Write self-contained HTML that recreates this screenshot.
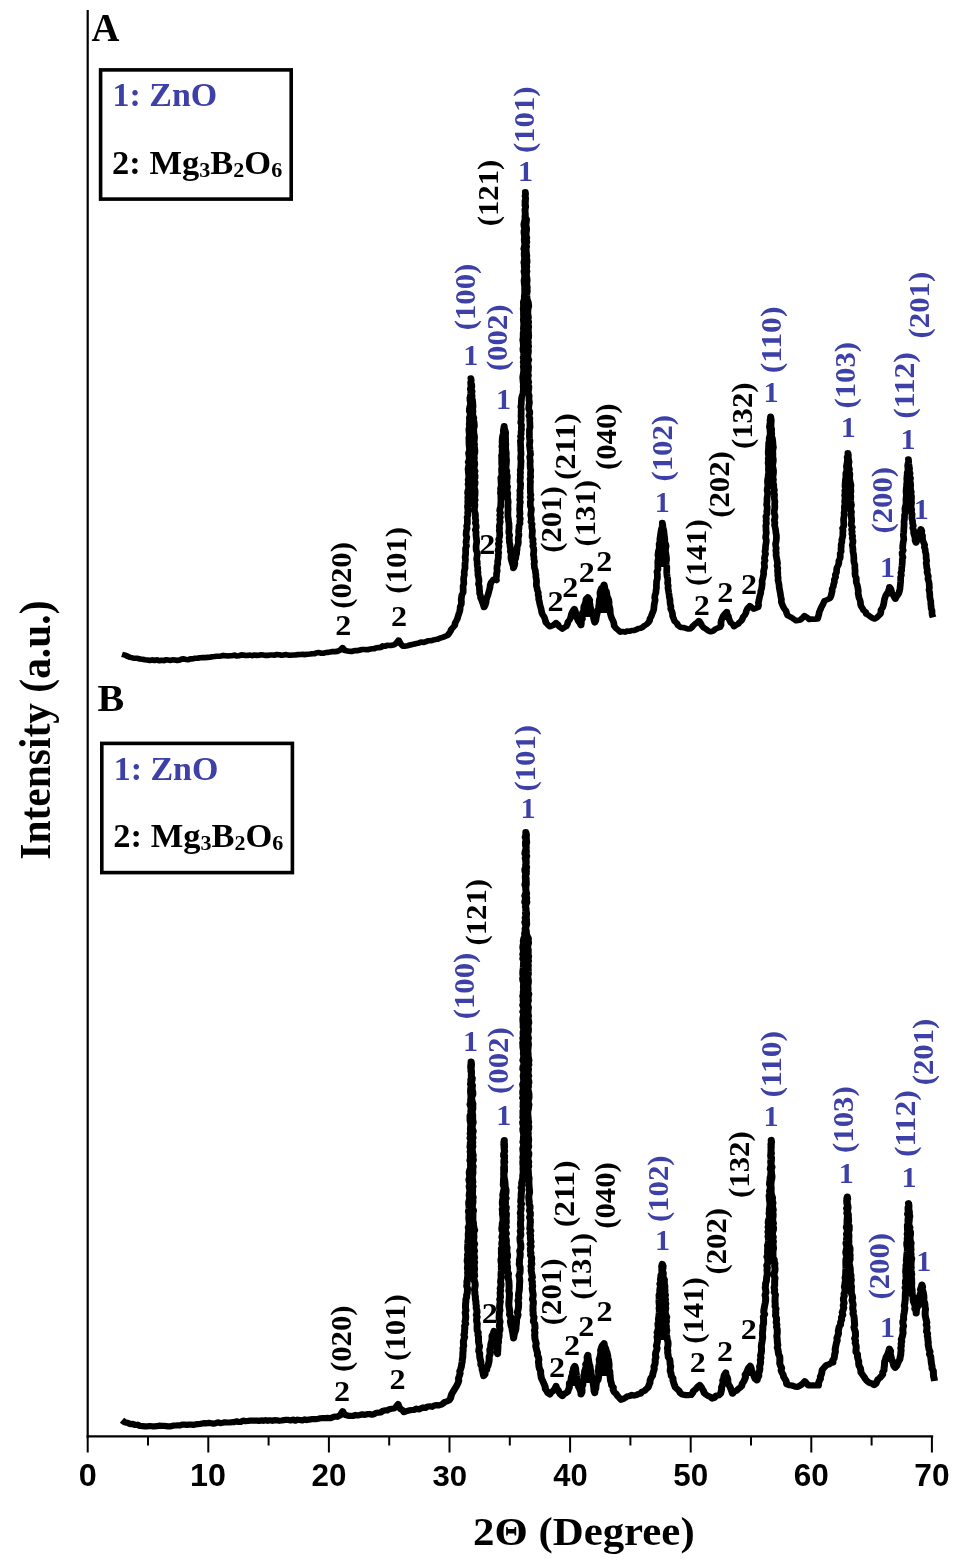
<!DOCTYPE html>
<html lang="en"><head><meta charset="utf-8"><title>XRD patterns</title>
<style>
html,body{margin:0;padding:0;background:#fff}
body{width:969px;height:1567px;overflow:hidden}
svg{display:block}
text.s{font-family:"Liberation Serif","Times New Roman",serif;font-weight:bold}
text.a{font-family:"Liberation Sans",Arial,sans-serif;font-weight:bold}
</style></head><body>
<svg width="969" height="1567" viewBox="0 0 969 1567">
<rect width="969" height="1567" fill="#fff"/>
<path d="M87.7 10 V1437.4" stroke="#000" stroke-width="2.2" fill="none"/>
<path d="M86.7 1436.4 H933.2" stroke="#000" stroke-width="2.2" fill="none"/>
<path d="M87.7 1436.4 V1452.5M208.3 1436.4 V1452.5M328.9 1436.4 V1452.5M449.5 1436.4 V1452.5M570.1 1436.4 V1452.5M690.7 1436.4 V1452.5M811.3 1436.4 V1452.5M931.9 1436.4 V1452.5" stroke="#000" stroke-width="2" fill="none"/>
<path d="M148.0 1436.4 V1445.5M268.6 1436.4 V1445.5M389.2 1436.4 V1445.5M509.8 1436.4 V1445.5M630.4 1436.4 V1445.5M751.0 1436.4 V1445.5M871.6 1436.4 V1445.5" stroke="#000" stroke-width="2" fill="none"/>
<text class="a" font-size="30" fill="#000" transform="matrix(1.0807,0,0,1.0165,78.65,1485.95)">0</text>
<text class="a" font-size="30" fill="#000" transform="matrix(1.0777,0,0,1.0165,189.98,1485.95)">10</text>
<text class="a" font-size="30" fill="#000" transform="matrix(1.0474,0,0,1.0165,311.55,1485.95)">20</text>
<text class="a" font-size="30" fill="#000" transform="matrix(1.0390,0,0,1.0105,432.42,1485.82)">30</text>
<text class="a" font-size="30" fill="#000" transform="matrix(1.0308,0,0,1.0165,553.28,1485.95)">40</text>
<text class="a" font-size="30" fill="#000" transform="matrix(1.0474,0,0,1.0165,673.35,1485.95)">50</text>
<text class="a" font-size="30" fill="#000" transform="matrix(1.0516,0,0,1.0165,793.82,1485.95)">60</text>
<text class="a" font-size="30" fill="#000" transform="matrix(1.0559,0,0,1.0165,914.28,1485.95)">70</text>
<text class="s" font-size="38" fill="#000" transform="matrix(1.1279,0,0,1.0428,472.97,1544.50)">2Θ (Degree)</text>
<text class="s" font-size="40" fill="#000" transform="matrix(0,-1.0370,1.0895,0,50.30,859.73)">Intensity (a.u.)</text>
<g transform="scale(1.2,1)"><polyline points="101.67,654.4 104.28,655.1 106.67,656.5 108.54,657.4 110.50,657.9 112.50,658.2 114.62,658.3 116.67,659.0 118.76,659.3 120.83,659.8 122.82,660.1 124.81,660.5 126.86,659.9 128.83,660.5 130.71,659.9 132.62,660.8 134.50,660.3 136.39,660.6 138.27,659.7 140.17,660.1 142.06,660.4 143.94,659.8 145.83,660.0 147.69,660.4 149.52,660.2 151.31,659.1 153.14,658.9 155.00,659.4 156.86,659.7 158.66,658.9 160.50,658.9 162.55,658.3 164.64,658.3 166.67,657.7 168.76,657.6 170.85,657.6 172.93,657.4 175.00,657.2 176.83,656.7 178.69,656.5 180.55,656.2 182.43,656.3 184.27,655.9 186.10,655.4 188.00,655.7 189.86,656.0 191.70,655.7 193.55,655.7 195.39,655.1 197.25,656.0 199.10,655.8 200.93,654.9 202.78,655.1 204.64,655.5 206.49,655.4 208.33,655.1 210.19,655.6 212.04,655.0 213.89,655.4 215.74,655.2 217.59,654.8 219.44,655.1 221.30,655.4 223.15,655.4 225.00,655.0 226.92,655.0 228.83,655.1 230.75,654.5 232.67,654.7 234.58,655.3 236.50,654.9 238.42,654.6 240.33,655.1 242.25,655.2 244.17,655.0 246.20,655.0 248.21,654.6 250.23,654.5 252.26,654.4 254.30,654.6 256.31,654.2 258.33,654.0 260.23,653.7 262.14,653.6 264.01,652.8 265.91,652.6 267.87,653.2 269.80,653.2 271.67,652.5 273.51,652.4 275.32,651.9 277.14,651.5 279.00,651.6 280.83,651.4 283.75,650.0 285.50,647.8 287.50,650.6 290.83,651.2 292.71,651.5 294.53,651.0 296.34,650.5 298.20,650.6 300.00,650.0 301.96,649.5 303.97,649.5 306.00,649.8 307.95,649.2 309.93,648.8 311.92,648.6 313.67,647.8 315.54,647.6 317.44,647.4 319.03,645.9 321.01,646.2 322.75,645.3 324.63,645.5 326.50,645.4 328.33,644.8 330.42,643.0 332.17,640.2 333.83,643.8 335.83,646.2 337.82,646.1 339.77,645.7 341.67,645.0 343.52,644.5 345.39,644.1 347.21,643.4 349.08,643.0 350.94,642.1 353.02,642.5 354.91,641.7 356.78,640.8 358.77,640.7 360.71,640.2 362.62,639.6 364.58,639.3 366.66,638.1 368.85,637.3 371.00,636.4 373.08,635.2 374.33,633.3 375.39,631.3 376.23,629.1 377.55,627.3 378.92,625.5 379.28,623.0 380.28,620.8 381.16,618.6 381.75,616.2 382.39,613.8 383.05,611.5 383.42,609.0 383.52,606.6 384.37,604.4 384.54,602.0 384.33,599.6 384.59,597.2 384.92,594.9 385.91,592.7 386.00,590.3 385.91,588.1 385.92,585.8 386.52,583.7 386.41,581.4 386.29,579.2 386.51,577.0 386.98,574.8 386.79,572.6 387.02,570.4 387.56,568.2 387.46,565.9 387.48,563.7 387.76,561.5 387.92,559.3 387.56,557.1 387.98,554.9 388.09,552.7 387.96,550.4 387.98,548.2 388.78,546.1 388.51,543.8 388.32,541.6 388.76,539.4 389.04,537.2 388.39,535.0 388.48,532.8 388.68,530.6 389.28,528.4 388.86,526.1 389.44,524.0 389.50,521.7 389.46,519.5 389.24,517.3 390.02,515.1 389.67,512.9 389.98,510.7 389.76,508.5 389.53,506.3 389.96,504.0 389.77,501.8 389.97,499.6 389.78,497.4 390.10,495.2 389.62,493.0 389.88,490.8 390.53,488.6 390.49,486.3 390.01,484.1 390.55,481.9 390.09,479.7 390.70,477.5 390.56,475.3 390.30,473.0 390.19,470.8 390.01,468.6 390.50,466.4 390.88,464.2 390.15,462.0 390.90,459.8 391.07,457.6 390.74,455.4 390.41,453.1 391.09,450.9 391.22,448.7 391.01,446.5 390.87,444.3 390.78,442.1 390.79,439.9 390.69,437.7 391.16,435.5 390.97,433.3 390.79,431.0 390.74,428.8 391.29,426.6 390.99,424.4 391.21,422.2 391.25,420.0 391.15,417.8 391.70,415.6 391.79,413.4 391.04,411.1 391.26,408.9 391.43,406.7 392.10,404.5 391.97,402.3 391.62,400.1 391.56,397.9 392.04,395.7 392.24,393.5 392.39,391.3 391.91,389.0 392.46,386.9 392.33,384.6 392.21,382.4 392.72,380.2 392.33,378.0 392.72,380.2 392.41,382.4 393.14,384.6 393.20,386.8 392.67,389.0 393.45,391.2 393.09,393.4 393.38,395.6 393.30,397.8 393.75,400.0 393.97,402.2 394.09,404.4 394.24,406.6 393.81,408.9 394.15,411.1 393.93,413.3 394.09,415.6 394.88,417.7 394.59,420.0 395.10,422.2 395.26,424.4 395.33,426.6 394.70,428.9 394.87,431.1 394.93,433.3 395.33,435.5 395.49,437.7 395.25,440.0 395.11,442.2 395.49,444.4 395.32,446.6 395.65,448.8 395.79,451.1 395.63,453.3 395.07,455.5 395.38,457.8 395.06,460.0 395.50,462.2 395.67,464.4 395.22,466.7 395.19,468.9 395.95,471.1 395.35,473.3 395.90,475.5 395.88,477.8 395.19,480.0 395.97,482.2 395.80,484.4 395.13,486.7 395.66,488.9 395.95,491.1 395.91,493.3 395.85,495.6 395.40,497.8 396.00,500.0 395.27,502.3 395.77,504.5 395.67,506.7 395.32,509.0 395.46,511.4 396.11,513.6 396.23,516.0 396.10,518.3 396.53,520.6 396.11,522.9 396.75,525.2 396.86,527.5 396.06,529.9 396.77,532.2 396.58,534.5 396.80,536.8 397.00,539.2 397.32,541.5 397.00,543.8 396.71,546.0 396.75,548.3 396.84,550.5 397.71,552.6 397.71,554.9 397.43,557.1 397.19,559.3 397.67,561.5 397.63,563.7 397.74,566.0 398.20,568.1 398.03,570.4 398.34,572.6 398.25,574.8 398.71,577.1 399.08,579.4 399.12,581.7 398.71,584.1 399.42,586.4 399.46,588.7 399.69,591.1 399.65,593.4 400.37,595.7 400.50,598.0 401.40,600.3 402.11,602.7 402.85,605.1 403.42,607.5 404.37,605.1 405.06,602.6 405.19,599.9 405.87,597.4 406.67,595.0 407.22,592.5 407.77,590.0 408.30,587.5 408.51,584.9 409.25,582.5 411.17,579.4 413.75,580.5 413.45,578.1 413.79,575.8 413.78,573.4 414.35,571.1 414.05,568.7 414.19,566.3 414.85,564.0 414.67,561.6 415.00,559.3 415.36,557.1 415.18,554.9 415.62,552.7 415.06,550.5 415.48,548.3 415.84,546.1 415.28,543.8 416.17,541.7 415.56,539.4 416.21,537.2 416.49,535.0 416.44,532.8 416.07,530.6 416.33,528.4 416.03,526.2 416.47,524.0 416.90,521.8 416.38,519.5 416.99,517.3 416.36,515.1 417.13,512.9 416.38,510.7 416.70,508.5 417.30,506.3 417.27,504.1 417.42,501.8 417.42,499.6 417.39,497.4 417.40,495.2 416.99,493.0 417.28,490.8 417.09,488.5 417.66,486.3 417.68,484.1 417.58,481.9 417.42,479.7 417.31,477.5 418.20,475.3 418.12,473.1 417.95,470.9 418.00,468.6 418.35,466.4 418.05,464.2 418.06,462.0 418.07,459.8 418.06,457.6 417.91,455.4 418.54,453.2 418.40,451.0 418.60,448.8 418.20,446.5 418.53,444.3 418.39,442.1 418.45,439.9 418.63,437.7 418.92,435.5 419.53,433.1 419.45,430.6 419.76,428.2 420.17,425.8 420.34,428.1 420.95,430.4 421.43,432.6 421.25,435.0 421.28,437.3 421.37,439.6 421.29,441.9 421.54,444.1 421.38,446.4 421.40,448.7 421.67,451.0 421.96,453.2 421.79,455.5 421.86,457.7 422.15,459.9 422.04,462.2 421.96,464.4 421.70,466.6 421.75,468.9 422.39,471.1 422.11,473.3 422.72,475.5 422.75,477.8 422.42,480.0 422.51,482.2 422.27,484.5 423.03,486.6 422.58,488.9 422.58,491.1 423.20,493.3 422.95,495.6 422.91,497.8 423.33,500.0 423.50,502.3 423.24,504.7 423.26,507.0 423.43,509.3 423.24,511.7 423.25,514.0 423.24,516.3 423.64,518.7 423.75,521.0 424.14,523.4 424.17,525.7 424.29,528.1 424.06,530.5 423.98,532.9 424.72,535.2 424.24,537.6 424.50,540.0 424.49,542.3 425.02,544.6 425.06,546.9 425.57,549.1 425.24,551.5 426.06,553.7 425.83,556.0 425.80,558.6 426.36,561.0 426.92,563.5 427.64,565.9 427.83,568.4 428.62,566.0 429.08,563.5 428.76,560.9 429.75,558.5 429.92,556.0 430.50,553.8 430.61,551.5 430.92,549.2 430.96,546.8 431.67,544.6 431.99,542.4 431.83,540.0 431.89,537.6 432.44,535.3 432.27,532.9 432.19,530.5 432.51,528.1 432.49,525.7 433.37,523.4 433.17,521.0 433.62,518.6 432.88,516.3 433.36,513.9 433.22,511.6 432.98,509.2 433.18,506.8 433.17,504.5 433.66,502.1 433.01,499.8 433.50,497.4 433.24,495.1 433.48,492.9 433.12,490.6 433.70,488.4 433.70,486.1 433.93,483.9 433.37,481.6 433.46,479.3 433.72,477.1 433.49,474.8 433.80,472.6 433.51,470.3 433.93,468.1 434.04,465.8 434.08,463.5 434.25,461.3 433.88,459.0 433.85,456.8 434.20,454.5 434.14,452.3 433.92,450.0 434.01,447.7 433.86,445.5 433.80,443.2 433.66,440.9 434.33,438.6 433.73,436.4 434.33,434.1 434.17,431.8 434.58,429.6 434.42,427.3 434.64,425.0 433.90,422.7 434.26,420.5 434.35,418.2 434.14,415.9 434.34,413.6 434.24,411.4 434.42,409.1 433.96,406.8 434.39,404.5 434.43,402.3 434.50,400.0 434.70,397.7 435.16,395.5 435.88,393.3 436.00,391.0 436.17,388.8 436.00,386.5 436.14,384.3 435.90,382.1 435.74,379.9 435.56,377.6 435.81,375.4 436.11,373.2 436.37,371.0 436.32,368.8 436.03,366.5 436.47,364.3 435.99,362.1 436.34,359.9 435.95,357.6 436.26,355.4 436.48,353.2 435.86,350.9 435.74,348.7 436.15,346.5 436.07,344.3 435.92,342.0 435.59,339.8 435.95,337.6 435.98,335.4 435.97,333.1 436.39,330.9 436.14,328.7 436.27,326.5 436.43,324.3 436.29,322.0 436.06,319.8 436.29,317.6 436.20,315.4 436.21,313.1 436.19,310.9 435.99,308.7 436.20,306.5 436.20,304.2 436.08,302.0 436.90,299.1 436.92,296.0 437.18,293.8 437.23,291.5 437.16,289.3 437.21,287.0 437.01,284.8 436.78,282.5 436.70,280.3 437.11,278.1 437.26,275.8 436.96,273.6 436.60,271.3 437.22,269.1 436.90,266.8 436.89,264.6 436.50,262.4 436.93,260.1 437.14,257.9 436.85,255.6 436.78,253.4 437.06,251.2 436.48,248.9 436.92,246.7 437.33,244.4 437.09,242.2 436.83,239.9 437.09,237.7 437.01,235.5 436.65,233.2 436.65,231.0 437.27,228.7 436.70,226.5 436.53,224.2 436.92,222.0 437.47,219.4 437.44,216.7 437.67,214.0 437.55,211.8 437.69,209.6 437.91,207.3 437.40,205.1 437.85,202.9 437.91,200.7 438.01,198.5 437.52,196.2 437.84,194.0 437.75,191.8 438.00,194.0 437.71,196.2 438.08,198.5 437.52,200.7 437.46,202.9 437.96,205.1 438.06,207.3 437.39,209.6 437.64,211.8 437.83,214.0 437.80,216.7 438.82,219.3 438.67,222.0 438.31,224.2 438.58,226.5 438.87,228.7 438.78,231.0 438.49,233.2 438.48,235.5 439.04,237.7 438.65,239.9 439.09,242.2 438.36,244.4 438.86,246.7 438.44,248.9 438.62,251.2 438.75,253.4 439.07,255.6 438.84,257.9 439.21,260.1 439.23,262.4 438.71,264.6 439.05,266.8 438.70,269.1 439.18,271.3 438.76,273.6 438.77,275.8 439.16,278.1 439.36,280.3 439.10,282.5 439.03,284.8 439.40,287.0 439.33,289.3 439.47,291.5 438.98,293.8 439.08,296.0 439.32,299.1 440.25,302.0 440.51,304.2 440.68,306.4 440.07,308.7 439.97,310.9 439.83,313.1 440.16,315.4 440.41,317.6 439.96,319.8 440.62,322.0 440.09,324.3 440.64,326.5 440.37,328.7 440.28,330.9 440.39,333.1 440.59,335.4 440.53,337.6 439.99,339.8 440.32,342.0 440.22,344.3 440.56,346.5 440.10,348.7 440.45,350.9 440.21,353.2 439.92,355.4 439.85,357.6 440.72,359.8 440.03,362.1 439.98,364.3 440.48,366.5 440.42,368.7 440.24,371.0 439.93,373.2 440.41,375.4 439.97,377.7 440.09,379.9 440.64,382.1 439.95,384.3 440.77,386.5 440.66,388.8 440.33,391.0 440.31,393.3 440.99,395.5 440.82,397.7 440.83,400.0 441.21,402.3 440.94,404.5 440.64,406.8 440.61,409.1 441.45,411.4 441.46,413.6 440.79,415.9 441.56,418.2 441.38,420.4 441.56,422.7 441.62,425.0 441.72,427.3 441.20,429.5 441.14,431.8 441.23,434.1 441.12,436.4 441.33,438.6 441.62,440.9 441.43,443.2 441.16,445.5 441.50,447.7 441.67,450.0 441.93,452.2 442.12,454.5 441.35,456.8 441.69,459.0 441.94,461.2 441.73,463.5 441.80,465.8 441.86,468.0 442.31,470.2 442.07,472.5 442.04,474.7 442.26,477.0 441.67,479.3 442.11,481.5 441.92,483.8 441.90,486.0 441.90,488.3 441.95,490.5 441.94,492.8 442.43,495.0 441.79,497.3 442.58,499.5 441.90,501.8 441.98,504.0 442.01,506.3 442.77,508.5 442.76,510.7 442.42,513.0 442.25,515.2 442.68,517.4 442.89,519.6 442.45,521.9 443.43,524.0 443.10,526.2 443.30,528.4 443.71,530.6 443.58,532.8 443.42,535.1 443.38,537.3 444.28,539.4 443.94,541.7 444.46,543.8 443.93,546.1 444.70,548.2 444.87,550.4 444.67,552.7 444.47,554.9 444.97,557.1 444.92,559.3 445.46,561.5 445.07,563.8 445.26,566.0 445.43,568.2 446.14,570.3 446.24,572.6 446.61,574.8 446.53,577.0 446.95,579.2 447.15,581.4 446.95,583.7 447.00,585.9 447.55,588.1 447.83,590.3 448.56,592.4 448.44,594.8 448.99,597.0 448.88,599.3 449.49,601.5 449.75,603.8 450.24,606.0 450.76,608.2 451.17,610.4 451.46,612.6 452.16,614.7 453.26,616.5 454.02,618.5 454.47,620.7 455.00,622.8 456.61,624.8 458.25,626.7 460.83,625.5 463.42,622.8 464.92,624.4 465.83,626.5 468.58,629.0 470.13,627.6 471.83,626.5 472.81,624.4 473.29,621.9 474.58,620.0 475.44,617.9 475.88,615.7 476.33,613.5 477.35,610.9 478.67,608.6 479.43,611.0 479.96,613.5 480.57,616.0 481.00,618.5 481.86,621.0 483.11,623.2 484.17,625.5 484.47,623.3 484.40,621.1 485.38,619.0 485.12,616.7 485.40,614.5 485.44,612.3 486.55,610.3 486.37,608.0 486.67,605.8 487.59,603.7 488.15,601.4 488.33,599.0 489.92,597.0 491.50,600.0 491.32,602.3 491.71,604.5 491.86,606.7 492.50,608.9 492.65,611.3 493.29,613.6 494.41,615.7 494.59,618.2 495.07,620.5 495.67,622.8 496.57,620.5 496.85,618.0 497.24,615.6 497.74,613.1 497.86,610.6 498.85,608.3 498.92,605.8 499.27,603.6 499.28,601.4 499.56,599.2 500.26,597.0 500.08,594.7 499.97,592.5 500.50,590.3 501.19,588.1 502.59,586.5 503.42,584.4 503.90,586.7 504.14,589.1 505.32,591.1 505.66,593.4 505.92,595.8 506.67,598.0 507.35,600.1 507.58,602.4 507.45,604.7 507.97,606.8 508.39,609.0 508.53,611.2 508.58,613.5 509.12,616.0 509.86,618.5 510.90,620.8 511.56,623.3 511.83,625.9 513.33,628.2 515.18,630.1 517.00,632.1 518.91,631.5 520.90,632.1 522.77,631.0 524.75,631.3 526.52,630.5 528.44,630.4 530.20,629.7 531.90,628.6 533.75,628.2 535.56,627.2 537.01,625.6 538.75,624.5 540.17,622.8 541.28,620.8 541.67,618.4 542.66,616.4 543.34,614.2 544.08,612.0 544.77,609.7 544.93,607.2 545.15,604.8 545.52,602.4 545.97,600.0 545.58,597.5 545.82,595.1 546.60,592.7 546.67,590.3 547.06,588.0 546.98,585.6 547.10,583.3 547.18,581.0 547.77,578.7 547.84,576.3 547.79,574.0 547.45,571.6 548.34,569.4 548.17,567.0 548.24,564.7 548.10,562.3 548.31,560.0 548.78,557.7 548.26,555.4 548.47,553.1 548.74,550.7 549.39,548.5 549.37,546.1 549.25,543.8 549.97,541.5 549.88,539.1 550.20,536.7 550.48,534.3 550.75,532.0 551.07,529.6 551.61,527.3 552.03,524.9 551.92,522.5 552.31,524.9 552.41,527.3 553.01,529.6 553.32,531.9 553.44,534.3 553.67,536.7 554.01,539.1 553.93,541.5 554.67,543.8 555.08,546.1 554.74,548.4 554.51,550.8 554.85,553.1 555.11,555.4 555.39,557.7 555.46,560.0 555.07,562.4 555.20,564.7 555.67,567.0 555.64,569.3 555.57,571.7 555.68,574.0 555.88,576.3 556.44,578.6 556.50,581.0 556.33,583.3 556.85,585.6 556.64,588.0 557.00,590.3 557.26,592.6 557.63,594.9 557.76,597.3 558.31,599.5 558.33,601.9 558.51,604.2 559.12,606.5 558.92,608.9 559.85,611.3 560.43,613.7 560.55,616.4 561.44,618.8 562.17,621.2 564.00,623.1 565.23,625.7 567.25,627.4 569.23,627.5 571.12,628.2 573.03,628.9 575.00,629.0 576.51,627.5 577.73,625.6 579.17,624.0 581.00,622.5 582.50,620.6 583.76,622.9 584.83,625.4 586.25,627.6 588.34,629.0 590.21,630.9 592.50,631.8 594.44,630.9 596.04,629.2 597.91,628.1 599.92,627.4 600.88,625.2 600.78,622.7 601.15,620.3 601.90,618.0 602.67,615.8 604.15,613.7 605.67,611.6 605.90,614.0 607.00,616.1 607.35,618.5 608.17,620.7 609.08,622.9 610.81,624.4 611.67,626.6 613.29,625.2 615.07,624.1 616.38,622.2 617.92,620.7 618.76,618.7 619.42,616.7 620.73,615.0 621.57,613.0 622.00,610.8 623.12,608.1 624.83,605.8 626.51,607.5 628.25,609.1 629.93,608.2 631.67,607.5 632.16,605.2 631.99,602.7 632.45,600.3 632.80,598.0 633.31,595.6 633.93,593.3 634.00,590.9 634.67,588.5 634.95,586.0 635.20,583.5 635.02,580.9 635.64,578.5 636.08,576.0 636.42,573.8 636.26,571.6 636.64,569.4 637.19,567.2 637.00,565.0 636.77,562.8 637.56,560.6 637.00,558.3 637.38,556.1 637.97,553.9 637.45,551.6 637.86,549.4 637.89,547.2 638.08,545.0 638.47,542.6 638.61,540.2 638.00,537.7 638.22,535.3 638.62,532.9 638.34,530.4 638.33,528.0 638.14,525.7 638.71,523.3 638.39,521.0 638.60,518.7 638.23,516.3 639.20,514.0 638.96,511.7 639.28,509.4 639.39,507.0 638.81,504.7 639.13,502.3 639.17,500.0 639.20,497.7 639.58,495.4 639.75,493.1 639.28,490.8 639.41,488.4 639.89,486.2 639.71,483.8 639.55,481.5 639.70,479.2 640.12,476.9 640.24,474.6 640.66,472.3 640.33,470.0 640.38,467.7 640.46,465.5 640.06,463.2 640.31,460.9 640.21,458.6 640.60,456.4 640.23,454.1 640.19,451.8 640.35,449.5 640.46,447.3 640.50,445.0 640.60,442.7 641.10,440.5 640.96,438.2 641.50,436.0 641.87,433.7 641.73,431.4 641.60,429.1 641.19,426.9 641.46,424.6 641.82,422.3 641.67,420.0 642.17,416.2 642.75,420.0 642.65,422.3 642.54,424.6 642.50,426.9 643.06,429.1 642.93,431.4 643.12,433.7 643.00,436.0 643.63,438.2 643.91,440.4 644.10,442.7 644.17,445.0 644.54,447.3 644.13,449.6 643.98,451.9 644.11,454.2 644.00,456.6 644.42,458.9 644.44,461.2 644.10,463.5 643.81,465.8 644.24,468.1 644.62,470.4 644.61,472.8 644.35,475.1 644.06,477.4 644.55,479.7 644.17,482.0 644.80,484.6 644.78,487.4 645.33,490.0 644.89,492.3 645.49,494.7 645.26,497.0 645.34,499.3 645.80,501.7 645.52,504.0 645.70,506.3 645.61,508.7 645.14,511.0 645.22,513.3 645.82,515.7 645.79,518.0 645.20,520.3 645.77,522.7 645.42,525.0 645.97,527.6 646.40,530.3 646.58,533.0 647.00,535.2 647.03,537.4 646.94,539.6 646.71,541.8 646.23,544.0 646.51,546.2 646.88,548.4 646.49,550.6 646.87,552.8 646.67,555.0 647.15,558.0 647.67,561.0 647.96,563.4 647.52,565.8 648.19,568.2 647.91,570.6 648.19,573.0 648.13,575.4 648.48,577.8 648.36,580.2 648.83,582.6 649.24,585.0 649.32,587.4 649.70,589.8 650.10,592.2 650.40,594.6 650.75,597.0 651.20,599.4 651.07,601.9 651.75,604.2 652.61,606.6 653.64,608.9 655.02,610.9 655.61,613.5 656.58,615.8 658.46,616.7 660.17,618.0 661.80,619.4 663.50,620.7 667.00,619.9 668.74,617.9 670.42,615.8 672.64,617.4 674.58,619.5 676.79,619.1 679.03,619.2 681.25,619.0 681.84,616.7 682.40,614.4 682.75,612.0 683.61,609.8 684.33,607.5 685.40,605.3 686.26,603.1 687.17,600.8 689.43,599.6 691.67,598.3 692.52,596.1 692.96,593.7 693.48,591.4 693.45,588.9 694.42,586.7 694.64,584.3 695.37,582.0 695.29,579.5 696.36,577.2 696.06,574.7 697.11,572.5 697.17,570.0 697.43,567.6 698.50,565.4 699.02,563.1 699.08,560.6 700.08,558.4 700.25,556.0 700.15,553.6 700.98,551.4 700.77,549.0 701.03,546.7 700.94,544.4 701.59,542.1 701.50,539.7 702.07,537.5 702.40,535.2 702.33,532.8 702.54,530.6 702.12,528.3 703.10,526.2 703.18,524.0 703.05,521.7 702.92,519.5 703.21,517.3 703.62,515.1 703.35,512.9 703.76,510.7 703.71,508.5 703.66,506.2 704.25,504.1 703.88,501.8 704.08,499.6 704.26,497.4 703.84,495.2 704.31,493.0 703.99,490.7 704.69,488.5 704.13,486.3 704.25,484.1 704.39,481.9 704.50,479.7 704.92,477.5 704.87,475.2 704.87,473.0 705.61,470.9 705.62,468.6 705.33,466.4 705.68,464.1 706.03,461.9 706.25,459.6 705.93,457.2 706.66,455.0 706.58,452.7 706.99,455.0 706.86,457.4 707.21,459.7 707.56,462.0 707.16,464.4 707.20,466.7 707.92,469.0 707.57,471.4 708.22,473.7 708.11,476.0 707.96,478.4 708.33,480.7 708.75,483.0 709.20,485.2 708.90,487.4 709.00,489.6 709.12,491.8 708.68,494.1 709.07,496.3 708.88,498.5 708.98,500.7 709.13,502.9 709.60,505.1 709.08,507.4 708.92,509.6 709.63,511.8 709.24,514.0 709.42,516.2 709.52,518.4 709.75,520.6 709.51,522.9 709.36,525.1 710.33,527.2 709.62,529.5 710.18,531.7 709.87,533.9 710.56,536.1 710.16,538.3 710.82,540.5 710.70,542.8 710.21,545.0 710.60,547.2 710.83,549.4 710.76,551.6 711.24,553.8 711.41,556.0 711.57,558.3 711.50,560.5 711.73,562.7 712.40,564.9 712.35,567.1 712.45,569.3 712.60,571.5 712.46,573.8 712.72,576.0 713.54,578.1 713.51,580.4 713.58,582.6 714.29,584.7 714.71,586.8 715.02,589.0 715.27,591.2 715.09,593.5 715.53,595.6 715.77,597.8 716.57,599.8 717.04,602.0 717.08,604.2 717.68,606.4 718.76,608.3 719.63,610.4 721.33,611.9 721.92,614.1 723.69,615.2 725.31,616.7 726.99,618.0 728.83,619.0 730.69,617.7 732.08,615.8 733.67,614.1 734.06,611.9 734.21,609.7 735.40,607.8 736.05,605.7 736.47,603.6 736.74,601.4 737.08,599.2 737.64,597.1 738.25,594.9 739.40,593.1 740.23,591.0 740.95,589.0 741.25,586.7 742.44,589.1 743.01,591.7 744.00,594.2 745.03,596.7 746.08,599.2 746.90,597.1 748.07,595.2 749.06,593.2 749.58,590.9 749.98,588.7 750.14,586.4 750.33,584.1 750.48,581.9 750.56,579.6 750.49,577.3 751.16,575.1 750.75,572.7 751.42,570.5 751.37,568.3 751.67,566.0 751.81,563.8 751.97,561.6 751.91,559.4 752.46,557.2 751.87,554.9 751.75,552.7 752.71,550.5 752.21,548.3 752.26,546.1 752.48,543.9 752.73,541.7 753.18,539.5 753.01,537.2 752.74,535.0 753.00,532.8 753.16,530.6 753.21,528.4 753.38,526.2 753.44,523.9 753.33,521.7 753.67,519.5 753.79,517.3 753.75,515.1 754.44,512.9 754.15,510.7 754.09,508.4 754.59,506.2 754.98,504.1 755.05,501.8 754.92,499.6 755.14,497.4 755.36,495.1 755.11,492.8 755.05,490.6 755.27,488.3 755.47,486.1 755.52,483.8 755.81,481.6 755.64,479.3 755.74,477.0 755.96,474.8 756.03,472.5 756.70,470.3 756.57,468.0 756.38,465.7 756.70,463.5 757.22,461.3 757.00,459.0 757.10,461.4 757.30,463.8 757.62,466.2 757.98,468.6 757.76,471.0 758.44,473.4 757.96,475.8 758.80,478.2 758.35,480.6 758.75,483.0 758.94,485.2 758.74,487.4 758.90,489.6 759.40,491.8 759.10,494.1 759.61,496.3 759.53,498.5 759.48,500.7 759.65,502.9 759.38,505.1 759.16,507.4 759.81,509.6 759.45,511.8 760.09,514.0 759.92,516.2 759.93,518.6 760.46,520.9 760.49,523.3 761.10,525.6 760.63,528.1 761.40,530.4 761.33,532.8 761.87,535.3 762.52,537.8 762.56,540.5 763.33,543.0 764.24,540.7 765.10,538.4 765.83,536.0 766.59,533.7 766.67,531.1 767.42,528.8 768.21,531.0 767.92,533.5 768.78,535.6 768.73,538.0 769.00,540.3 769.69,542.6 770.56,544.7 770.28,547.2 771.00,549.4 771.07,551.7 771.61,553.9 771.83,556.2 771.75,558.5 772.29,560.7 771.77,563.0 772.14,565.3 772.22,567.5 772.81,569.8 772.51,572.1 773.08,574.3 773.61,576.5 773.26,578.9 773.88,581.1 774.29,583.3 774.38,585.6 774.49,587.8 774.17,590.2 774.71,592.4 774.80,594.7 774.87,596.9 775.17,599.2 775.68,601.4 775.65,603.8 775.92,606.1 775.99,608.4 776.67,610.6 776.66,612.9 776.86,615.2 777.58,617.4" fill="none" stroke="#000" stroke-width="5.6" stroke-linejoin="round" stroke-linecap="butt"/></g>
<g transform="scale(1.13,1)"><polyline points="107.96,1420.3 110.40,1422.2 113.27,1423.0 115.20,1424.2 117.55,1423.8 119.47,1425.0 121.73,1424.7 123.85,1426.0 126.08,1426.1 128.30,1426.3 130.53,1426.3 132.58,1426.0 134.64,1426.3 136.70,1426.3 138.75,1426.2 140.79,1425.6 142.86,1425.9 144.91,1425.8 146.97,1426.1 149.03,1426.4 151.09,1426.3 153.13,1425.7 155.18,1425.5 157.23,1425.3 159.29,1425.5 161.22,1424.7 163.18,1424.5 165.19,1425.0 167.14,1424.6 169.11,1424.5 171.13,1425.0 173.06,1424.4 175.03,1424.2 176.99,1424.0 178.98,1423.5 180.98,1423.1 183.01,1423.3 185.01,1422.9 187.05,1423.2 189.10,1423.7 191.08,1423.1 193.06,1422.3 195.12,1423.1 197.13,1422.8 199.12,1422.3 201.14,1422.5 203.17,1422.5 205.17,1422.2 207.18,1422.1 209.16,1421.3 211.22,1422.0 213.23,1421.8 215.18,1420.6 217.24,1421.2 219.24,1421.0 221.24,1420.6 223.20,1420.5 225.17,1420.6 227.14,1420.5 229.11,1421.0 231.07,1420.4 233.04,1420.8 235.00,1420.2 236.98,1420.8 238.94,1420.3 240.98,1420.8 243.02,1420.2 245.07,1420.3 247.11,1420.8 249.15,1420.5 251.19,1420.1 253.23,1419.8 255.27,1419.9 257.32,1420.4 259.36,1419.6 261.41,1420.6 263.44,1419.7 265.49,1420.0 267.53,1420.4 269.49,1419.4 271.56,1420.1 273.55,1419.6 275.54,1419.2 277.56,1419.0 279.58,1419.1 281.58,1418.8 283.57,1418.3 285.57,1418.0 287.61,1418.2 289.77,1417.9 291.99,1418.2 294.10,1417.5 296.19,1416.5 298.41,1416.8 301.33,1415.0 303.27,1411.2 304.21,1413.4 305.75,1415.0 308.23,1415.8 310.32,1415.9 312.40,1416.0 314.42,1414.9 316.53,1415.5 318.58,1415.0 320.66,1414.3 322.81,1414.9 324.89,1414.2 327.00,1414.0 329.16,1414.7 331.24,1414.0 332.98,1412.8 335.01,1412.7 337.01,1412.4 338.68,1411.0 340.56,1410.3 342.67,1410.5 344.42,1409.3 346.53,1408.8 348.67,1408.5 350.44,1407.0 352.30,1404.1 353.14,1406.7 354.42,1409.0 356.34,1410.1 357.52,1412.1 359.84,1411.2 362.14,1410.3 364.60,1410.0 366.58,1409.8 368.41,1408.7 370.54,1409.4 372.39,1408.4 374.30,1407.4 376.45,1407.9 378.31,1406.5 380.36,1406.4 382.48,1406.8 384.35,1405.5 386.36,1405.1 388.48,1405.4 390.44,1404.7 392.09,1403.5 393.60,1402.0 395.58,1401.4 397.51,1400.3 398.67,1398.2 399.23,1395.7 400.04,1393.3 401.29,1391.2 402.39,1389.0 403.92,1386.2 405.22,1383.3 405.98,1380.9 405.75,1378.3 406.50,1375.9 407.17,1373.5 406.90,1371.1 407.66,1368.9 408.30,1366.6 408.54,1364.3 409.01,1362.0 409.11,1359.6 409.51,1357.3 409.60,1355.0 409.61,1352.6 409.91,1350.3 409.74,1348.1 410.39,1345.9 410.13,1343.6 410.03,1341.4 410.58,1339.2 411.22,1337.1 410.50,1334.8 411.17,1332.6 411.10,1330.4 411.38,1328.2 411.10,1325.9 412.19,1323.8 411.52,1321.5 411.95,1319.3 412.16,1317.1 412.03,1314.9 411.65,1312.6 412.37,1310.5 411.97,1308.2 411.96,1306.0 412.02,1303.8 412.26,1301.6 412.27,1299.4 412.99,1297.2 412.93,1295.0 413.57,1292.8 413.60,1290.6 413.76,1288.4 412.96,1286.1 413.30,1283.9 413.16,1281.7 413.65,1279.5 413.77,1277.3 414.07,1275.1 413.81,1272.9 414.09,1270.6 413.61,1268.3 413.85,1266.1 414.01,1263.8 413.45,1261.5 413.53,1259.3 414.01,1257.0 413.71,1254.7 414.46,1252.5 413.95,1250.2 413.82,1247.9 413.96,1245.6 414.07,1243.4 414.09,1241.1 414.49,1238.8 414.47,1236.5 414.34,1234.3 414.60,1232.0 414.82,1229.7 414.37,1227.4 415.23,1225.2 415.34,1222.9 415.12,1220.6 414.83,1218.3 414.97,1216.0 415.10,1213.7 414.53,1211.4 415.01,1209.1 415.19,1206.9 414.84,1204.6 414.78,1202.3 415.31,1200.0 415.68,1197.7 415.19,1195.5 415.38,1193.2 415.87,1190.9 415.52,1188.6 415.16,1186.4 415.99,1184.1 415.29,1181.8 414.89,1179.5 415.69,1177.3 415.49,1175.0 415.24,1172.4 415.70,1170.0 416.55,1167.5 416.37,1165.0 416.58,1162.8 415.81,1160.5 416.32,1158.3 416.28,1156.0 416.37,1153.8 416.05,1151.6 416.50,1149.3 415.90,1147.1 416.15,1144.8 416.25,1142.6 416.91,1140.3 415.91,1138.1 416.71,1135.9 416.06,1133.6 416.50,1131.4 416.29,1129.1 416.38,1126.9 416.72,1124.7 416.31,1122.4 415.99,1120.2 415.99,1117.9 415.95,1115.7 416.85,1113.4 416.61,1111.2 416.98,1109.0 416.68,1106.7 415.90,1104.5 416.64,1102.2 416.46,1100.0 416.81,1097.7 416.77,1095.5 416.54,1093.2 416.40,1090.9 416.54,1088.7 416.97,1086.4 416.37,1084.1 416.70,1081.9 416.67,1079.6 417.25,1077.4 417.10,1075.1 417.28,1072.8 417.19,1070.6 416.59,1068.3 416.54,1066.0 416.86,1063.8 416.90,1061.5 417.26,1063.9 417.15,1066.2 416.94,1068.6 416.74,1071.0 417.21,1073.4 417.02,1075.8 417.94,1078.1 417.72,1080.5 417.05,1082.9 418.13,1085.2 417.89,1087.6 417.88,1090.0 418.42,1092.3 418.43,1094.6 417.52,1096.9 417.44,1099.2 417.87,1101.5 418.51,1103.8 418.35,1106.1 418.46,1108.5 417.98,1110.8 418.00,1113.1 418.32,1115.4 418.26,1117.7 418.32,1120.0 418.78,1122.2 418.28,1124.4 417.81,1126.6 418.04,1128.8 418.81,1131.0 418.32,1133.3 418.10,1135.5 418.64,1137.7 417.89,1139.9 418.41,1142.1 418.13,1144.3 418.48,1146.5 417.79,1148.7 418.05,1150.9 418.29,1153.1 418.80,1155.3 418.46,1157.6 418.94,1159.8 418.29,1162.0 417.95,1164.2 418.78,1166.4 418.40,1168.6 418.43,1170.8 418.53,1173.0 418.18,1175.2 417.92,1177.4 418.19,1179.7 418.47,1181.9 417.90,1184.1 418.64,1186.3 418.16,1188.5 418.27,1190.7 418.15,1192.9 418.05,1195.1 418.78,1197.3 418.33,1199.5 418.58,1201.7 418.28,1204.0 417.92,1206.2 418.33,1208.4 419.06,1210.6 418.53,1212.8 418.50,1215.0 418.46,1217.6 418.47,1220.2 418.96,1222.8 418.98,1225.4 419.56,1228.0 420.13,1230.3 419.06,1232.6 419.31,1234.9 419.46,1237.1 419.12,1239.4 419.15,1241.7 420.08,1244.0 419.25,1246.3 419.31,1248.6 419.99,1250.9 419.36,1253.2 419.55,1255.4 420.02,1257.7 419.31,1260.0 420.10,1262.3 419.55,1264.6 419.76,1266.9 419.98,1269.2 419.63,1271.5 419.75,1273.7 420.06,1276.0 419.18,1278.3 419.73,1280.6 420.37,1282.9 420.60,1285.2 420.18,1287.6 419.91,1289.9 420.26,1292.2 420.29,1294.5 420.74,1296.8 420.66,1299.2 421.20,1301.5 421.15,1303.8 421.55,1306.0 421.40,1308.2 422.08,1310.4 422.15,1312.6 421.49,1314.9 422.29,1317.1 421.74,1319.3 421.83,1321.5 422.40,1323.7 422.21,1326.0 422.21,1328.2 422.24,1330.4 423.22,1332.6 422.92,1334.8 423.49,1337.1 423.41,1339.4 423.49,1341.8 423.87,1344.1 424.38,1346.3 423.92,1348.7 423.62,1351.1 424.49,1353.3 424.47,1355.7 424.69,1358.0 425.25,1360.2 425.60,1362.5 425.53,1364.9 426.59,1366.9 426.62,1369.3 427.23,1371.5 427.59,1373.8 428.05,1376.0 429.26,1374.2 429.12,1371.7 430.69,1370.0 430.89,1367.7 431.86,1365.8 432.32,1363.5 432.79,1361.3 432.92,1358.9 432.91,1356.6 433.73,1354.4 433.63,1352.0 433.41,1349.6 434.29,1347.5 434.26,1345.1 434.68,1342.9 435.30,1340.6 435.49,1338.3 435.40,1336.0 436.42,1333.6 437.17,1331.0 437.74,1333.2 438.18,1335.3 438.28,1337.6 438.89,1339.7 438.94,1342.0 439.48,1344.4 438.97,1346.9 440.24,1349.1 439.70,1351.7 440.35,1354.0 440.39,1351.6 440.55,1349.2 440.67,1346.9 440.57,1344.5 441.19,1342.1 441.03,1339.7 441.53,1337.4 441.77,1335.0 441.57,1332.8 442.32,1330.6 442.40,1328.3 441.88,1326.1 442.15,1323.9 442.54,1321.6 441.88,1319.4 441.66,1317.2 441.86,1314.9 441.85,1312.7 442.47,1310.5 442.15,1308.3 442.18,1306.0 442.39,1303.8 442.79,1301.6 442.19,1299.4 442.92,1297.2 442.77,1295.0 442.55,1292.8 443.10,1290.6 442.60,1288.4 443.28,1286.2 443.39,1284.0 442.95,1281.8 443.23,1279.6 443.58,1277.4 443.40,1275.2 443.46,1273.0 443.66,1270.8 443.79,1268.6 443.64,1266.4 443.95,1264.2 443.45,1262.0 443.30,1259.7 443.79,1257.5 443.94,1255.3 443.68,1253.0 443.81,1250.7 443.65,1248.5 444.66,1246.3 444.05,1244.0 444.29,1241.7 444.87,1239.5 444.14,1237.2 444.60,1235.0 445.15,1232.7 444.19,1230.3 444.09,1228.0 444.47,1225.7 444.50,1223.3 445.16,1221.0 445.13,1218.7 445.00,1216.3 444.63,1214.0 444.77,1211.7 444.42,1209.3 445.13,1207.0 444.63,1204.7 444.52,1202.3 444.78,1200.0 445.20,1197.5 444.90,1194.9 445.36,1192.5 445.84,1190.0 446.36,1187.7 445.41,1185.4 445.48,1183.2 445.58,1180.9 445.65,1178.6 445.87,1176.4 445.69,1174.1 445.82,1171.8 445.73,1169.5 445.74,1167.3 446.19,1165.0 445.89,1162.7 445.95,1160.5 446.44,1158.2 445.63,1155.9 445.75,1153.6 446.59,1151.4 446.12,1149.1 446.55,1146.8 445.81,1144.5 446.29,1142.3 446.28,1140.0 445.90,1142.2 446.51,1144.4 446.03,1146.7 446.23,1148.9 446.50,1151.1 445.82,1153.3 446.55,1155.6 446.47,1157.8 446.32,1160.0 446.69,1162.2 446.11,1164.4 446.41,1166.7 446.44,1168.9 446.51,1171.1 446.01,1173.3 446.03,1175.6 446.22,1177.8 446.64,1180.0 446.84,1182.3 447.03,1184.7 447.05,1187.0 447.76,1189.3 447.83,1191.6 447.52,1194.0 446.95,1196.2 447.97,1198.4 447.04,1200.6 447.35,1202.8 447.08,1205.0 448.07,1207.2 447.81,1209.4 447.24,1211.6 448.18,1213.8 448.07,1216.0 447.79,1218.2 448.01,1220.4 448.05,1222.6 447.45,1224.8 448.13,1227.0 447.11,1229.2 447.50,1231.4 448.21,1233.6 447.22,1235.8 447.70,1238.0 448.16,1240.4 448.04,1242.8 448.11,1245.2 448.76,1247.6 448.50,1250.0 448.56,1252.4 449.15,1254.8 449.06,1257.2 448.29,1259.6 448.85,1262.0 448.62,1264.4 449.12,1266.7 449.08,1269.0 449.00,1271.4 450.01,1273.6 449.73,1276.0 449.83,1278.5 450.34,1281.0 450.45,1283.5 450.55,1286.0 450.51,1288.5 450.27,1291.0 450.88,1293.4 450.77,1295.7 450.67,1298.1 450.48,1300.5 450.29,1302.9 450.32,1305.3 450.63,1307.6 450.97,1310.0 451.17,1312.3 450.89,1314.6 451.97,1316.8 452.24,1319.1 451.62,1321.5 452.04,1323.7 452.39,1326.0 453.15,1328.4 453.38,1330.9 453.90,1333.4 454.17,1335.9 454.51,1338.4 454.86,1335.9 455.25,1333.4 456.13,1331.0 456.57,1328.6 456.64,1326.0 456.96,1323.7 457.11,1321.4 457.15,1319.1 457.96,1316.9 458.47,1314.7 457.84,1312.2 458.41,1310.0 458.78,1307.6 458.90,1305.3 458.99,1302.9 458.39,1300.5 459.13,1298.1 458.86,1295.7 458.98,1293.3 459.47,1291.0 459.61,1288.8 459.73,1286.5 459.76,1284.3 459.94,1282.0 459.94,1279.8 459.72,1277.6 459.27,1275.3 460.16,1273.1 460.27,1270.9 460.33,1268.6 460.10,1266.4 459.50,1264.1 459.73,1261.9 459.67,1259.6 460.18,1257.4 460.37,1255.2 460.30,1253.0 459.91,1250.8 460.84,1248.6 460.90,1246.4 460.85,1244.2 460.37,1241.9 460.20,1239.7 460.14,1237.5 460.89,1235.3 460.78,1233.1 460.32,1230.9 461.09,1228.7 460.73,1226.5 460.58,1224.3 460.62,1222.0 461.01,1219.8 460.73,1217.6 461.00,1215.4 460.41,1213.2 460.88,1211.0 461.18,1208.7 460.74,1206.3 461.54,1204.0 460.79,1201.7 460.99,1199.3 461.28,1197.0 461.17,1194.7 461.39,1192.3 461.91,1190.0 461.13,1187.7 461.85,1185.3 461.59,1183.0 462.17,1180.5 462.63,1178.1 462.59,1175.5 463.01,1173.0 462.96,1170.8 462.83,1168.6 462.98,1166.4 462.73,1164.2 462.65,1162.0 462.99,1159.7 462.66,1157.5 462.98,1155.3 463.10,1153.1 462.79,1150.9 462.63,1148.7 463.14,1146.5 463.44,1144.3 462.70,1142.1 463.16,1139.9 463.21,1137.6 463.47,1135.4 463.24,1133.2 462.80,1131.0 462.68,1128.8 463.42,1126.6 462.79,1124.4 462.46,1122.2 463.46,1120.0 462.68,1117.8 462.81,1115.6 462.82,1113.3 462.75,1111.1 463.30,1108.9 462.85,1106.7 462.97,1104.5 462.94,1102.3 463.43,1100.1 462.47,1097.9 463.13,1095.7 462.61,1093.5 462.63,1091.2 463.17,1089.0 462.90,1086.8 462.53,1084.6 463.15,1082.4 463.53,1080.2 463.21,1078.0 463.04,1075.8 463.40,1073.6 463.53,1071.4 462.64,1069.2 462.81,1066.9 463.59,1064.7 463.55,1062.5 462.70,1060.3 463.29,1058.1 463.49,1055.9 463.16,1053.7 463.29,1051.5 463.08,1049.3 462.75,1047.1 462.72,1044.8 462.55,1042.6 463.25,1040.4 462.64,1038.2 463.20,1036.0 462.93,1033.8 462.99,1031.6 463.61,1029.4 462.94,1027.2 463.04,1025.0 462.93,1022.8 462.73,1020.5 462.75,1018.3 463.11,1016.1 463.44,1013.9 462.59,1011.7 463.59,1009.5 463.28,1007.3 462.55,1005.1 463.32,1002.9 462.96,1000.7 463.09,998.4 462.61,996.2 463.09,994.0 463.10,991.8 463.41,989.6 463.17,987.4 463.32,985.2 463.36,983.0 462.76,980.8 462.53,978.6 463.06,976.4 462.65,974.1 462.67,971.9 462.88,969.7 463.13,967.5 463.22,965.3 463.26,963.1 463.61,960.9 462.63,958.7 463.16,956.5 462.61,954.3 463.29,952.0 463.02,949.8 462.67,947.6 462.87,945.4 463.28,943.2 463.10,941.0 463.51,938.5 464.49,936.1 464.26,933.5 464.87,931.0 464.68,928.8 465.37,926.6 465.00,924.4 464.43,922.2 465.22,920.0 464.73,917.8 465.42,915.6 465.06,913.4 465.26,911.2 465.38,908.9 464.93,906.7 465.47,904.5 464.37,902.3 464.74,900.1 465.33,897.9 464.37,895.7 465.15,893.5 465.53,891.3 465.21,889.1 465.38,886.9 464.47,884.7 465.01,882.5 465.10,880.3 464.90,878.1 464.89,875.9 465.32,873.7 464.60,871.5 464.46,869.3 465.11,867.1 465.55,864.8 465.39,862.6 465.21,860.4 464.78,858.2 465.49,856.0 464.49,853.8 464.73,851.6 465.37,849.4 465.50,847.2 465.04,845.0 464.98,842.4 465.63,839.9 464.75,837.3 465.37,834.8 465.31,832.2 465.87,834.7 465.73,837.3 465.83,839.9 466.10,842.4 465.58,845.0 465.69,847.2 465.58,849.4 465.84,851.6 465.42,853.8 466.12,856.0 465.58,858.2 465.57,860.4 465.72,862.6 465.13,864.8 466.06,867.1 465.71,869.3 465.68,871.5 465.78,873.7 465.09,875.9 465.56,878.1 465.63,880.3 465.72,882.5 465.73,884.7 465.13,886.9 465.32,889.1 465.50,891.3 466.07,893.5 465.57,895.7 466.12,897.9 465.86,900.1 466.25,902.3 465.46,904.5 465.14,906.7 465.55,908.9 465.63,911.2 466.01,913.4 465.79,915.6 465.77,917.8 465.82,920.0 466.00,922.2 466.07,924.4 465.45,926.6 465.22,928.8 465.75,931.0 465.83,933.6 466.50,936.0 467.62,938.4 467.52,941.0 467.75,943.2 467.13,945.4 466.97,947.6 467.47,949.8 467.45,952.0 467.31,954.3 467.82,956.5 467.28,958.7 467.69,960.9 467.13,963.1 467.58,965.3 467.34,967.5 467.47,969.7 467.49,971.9 467.58,974.1 467.01,976.4 467.24,978.6 467.63,980.8 467.53,983.0 467.07,985.2 467.25,987.4 467.36,989.6 467.01,991.8 467.99,994.0 467.43,996.2 467.40,998.4 467.60,1000.7 467.00,1002.9 467.00,1005.1 467.68,1007.3 467.41,1009.5 467.24,1011.7 467.32,1013.9 467.71,1016.1 467.20,1018.3 467.73,1020.5 467.97,1022.8 467.36,1025.0 467.38,1027.2 467.66,1029.4 467.56,1031.6 466.99,1033.8 467.20,1036.0 467.67,1038.2 467.08,1040.4 467.48,1042.6 467.67,1044.8 467.39,1047.1 467.23,1049.3 467.10,1051.5 467.37,1053.7 467.37,1055.9 467.68,1058.1 468.10,1060.3 467.62,1062.5 468.02,1064.7 467.05,1066.9 467.73,1069.2 467.45,1071.4 467.30,1073.6 467.95,1075.8 467.18,1078.0 467.78,1080.2 468.07,1082.4 467.46,1084.6 467.69,1086.8 467.09,1089.0 467.64,1091.2 468.05,1093.5 468.14,1095.7 468.13,1097.9 467.59,1100.1 467.33,1102.3 468.11,1104.5 467.78,1106.7 467.61,1108.9 467.12,1111.1 467.04,1113.3 467.15,1115.6 467.43,1117.8 467.50,1120.0 467.91,1122.2 467.46,1124.4 467.98,1126.6 467.82,1128.8 467.21,1131.0 467.52,1133.2 467.33,1135.4 467.64,1137.6 467.86,1139.9 467.59,1142.1 467.51,1144.3 467.90,1146.5 467.20,1148.7 467.04,1150.9 467.98,1153.1 467.91,1155.3 467.24,1157.5 467.35,1159.7 467.93,1162.0 467.51,1164.2 467.91,1166.4 467.19,1168.6 467.51,1170.8 467.61,1173.0 467.70,1175.6 468.22,1178.2 468.04,1180.8 468.07,1183.4 468.14,1186.0 468.36,1188.2 468.62,1190.5 468.66,1192.7 468.12,1195.0 467.92,1197.2 468.06,1199.5 468.39,1201.7 468.23,1204.0 469.06,1206.2 469.02,1208.4 468.50,1210.7 469.37,1212.9 469.33,1215.2 468.57,1217.4 469.31,1219.7 469.37,1221.9 469.18,1224.2 469.12,1226.4 468.79,1228.6 469.81,1230.8 468.86,1233.1 469.60,1235.2 469.35,1237.5 469.53,1239.7 470.00,1241.9 469.09,1244.1 470.06,1246.3 469.39,1248.6 469.37,1250.8 469.93,1253.0 469.40,1255.2 470.51,1257.4 470.47,1259.6 470.15,1261.8 470.69,1264.0 469.89,1266.3 470.29,1268.5 470.03,1270.7 470.44,1272.9 470.78,1275.1 471.17,1277.3 470.25,1279.6 471.14,1281.7 470.98,1283.9 471.41,1286.1 470.96,1288.4 471.19,1290.6 471.59,1292.8 471.87,1295.0 471.61,1297.2 471.17,1299.4 472.00,1301.6 472.00,1303.8 471.63,1306.0 471.70,1308.3 471.59,1310.5 471.87,1312.7 471.72,1314.9 472.61,1317.1 472.30,1319.3 472.00,1321.6 473.23,1323.7 473.31,1325.9 473.52,1328.1 472.93,1330.4 473.43,1332.6 473.14,1334.9 473.27,1337.1 473.48,1339.3 474.06,1341.5 474.56,1343.6 474.04,1345.9 474.50,1348.1 474.96,1350.3 475.65,1352.6 475.58,1355.0 476.54,1357.2 476.89,1359.5 476.52,1361.9 476.77,1364.3 476.96,1366.6 477.43,1368.9 478.48,1371.1 478.41,1373.5 478.74,1375.8 479.06,1378.1 479.99,1380.2 480.81,1382.3 481.61,1384.5 482.46,1386.6 482.57,1389.0 483.81,1390.9 484.87,1393.0 486.64,1394.4 487.68,1392.4 489.38,1391.0 491.07,1388.7 492.12,1386.0 492.56,1388.2 493.99,1389.9 494.69,1392.0 495.84,1394.3 497.61,1396.0 498.96,1394.3 500.66,1393.1 502.39,1392.0 502.96,1389.8 503.81,1387.7 503.91,1385.4 503.90,1383.1 505.34,1381.1 505.43,1378.8 505.84,1376.6 506.72,1374.6 506.67,1372.3 507.36,1370.2 507.65,1368.0 508.67,1366.0 509.43,1368.4 509.54,1371.0 509.97,1373.5 510.09,1376.0 510.28,1378.6 511.06,1381.0 511.77,1383.2 511.61,1385.6 512.44,1387.8 513.30,1389.9 514.00,1392.1 514.16,1394.4 515.03,1392.2 515.03,1389.8 514.67,1387.3 515.75,1385.2 515.74,1382.8 516.13,1380.4 516.87,1378.2 516.59,1375.8 517.26,1373.5 517.37,1371.1 518.06,1368.9 518.85,1366.7 518.29,1364.2 519.52,1362.0 519.77,1359.7 519.52,1357.2 520.27,1355.0 520.42,1357.3 520.81,1359.7 521.05,1362.0 521.59,1364.3 522.19,1366.5 522.32,1368.9 522.97,1371.1 523.01,1373.5 523.43,1375.7 523.86,1377.8 524.58,1379.9 524.81,1382.1 525.06,1384.3 525.37,1386.5 525.55,1388.7 525.72,1390.9 526.37,1393.0 526.48,1390.8 527.20,1388.7 527.34,1386.5 527.59,1384.3 527.88,1382.1 529.20,1380.1 529.55,1377.9 529.82,1375.8 529.82,1373.5 529.61,1371.1 529.75,1368.8 529.87,1366.5 530.26,1364.2 530.58,1361.9 530.26,1359.5 530.91,1357.3 531.39,1355.0 531.73,1352.7 531.50,1350.3 532.21,1347.8 533.05,1345.3 534.60,1343.3 534.84,1345.8 535.89,1348.2 536.54,1350.6 537.29,1353.0 537.74,1355.5 538.05,1358.0 538.55,1360.2 538.79,1362.4 539.04,1364.7 538.94,1366.9 538.82,1369.2 539.63,1371.4 539.73,1373.6 539.88,1375.9 540.09,1378.1 540.28,1380.6 540.94,1382.9 541.27,1385.3 542.76,1387.3 542.62,1389.9 543.54,1392.1 545.25,1393.8 546.53,1396.0 548.10,1397.9 549.65,1399.8 551.58,1398.9 553.37,1397.7 555.15,1396.4 557.26,1396.0 559.04,1394.9 561.19,1395.6 563.09,1395.1 564.89,1394.0 566.81,1393.6 568.22,1391.6 570.47,1390.8 571.93,1389.0 573.63,1387.4 574.29,1385.1 575.17,1382.8 575.33,1380.3 576.09,1378.0 577.44,1375.9 577.79,1373.5 578.39,1371.2 579.00,1369.0 578.69,1366.5 579.64,1364.3 579.87,1362.0 579.76,1359.6 580.53,1357.3 580.02,1354.9 580.24,1352.5 581.06,1350.3 581.54,1348.1 580.87,1345.8 581.42,1343.7 581.79,1341.5 581.84,1339.2 581.42,1337.0 582.19,1334.8 581.44,1332.6 582.16,1330.4 582.66,1328.2 582.37,1325.9 582.20,1323.7 583.12,1321.6 582.65,1319.3 583.02,1317.1 583.20,1314.9 583.42,1312.7 583.57,1310.5 583.25,1308.3 583.64,1306.1 583.37,1303.9 583.18,1301.6 583.31,1299.4 583.39,1297.2 583.21,1295.0 584.01,1292.8 583.85,1290.6 584.07,1288.4 584.73,1286.2 583.92,1283.9 584.96,1281.8 584.46,1279.5 584.79,1277.3 584.94,1275.1 585.90,1272.9 585.72,1270.7 585.70,1268.4 585.55,1266.2 586.11,1264.0 586.83,1266.2 586.65,1268.4 586.13,1270.7 586.94,1272.9 586.87,1275.1 586.82,1277.4 587.98,1279.5 587.86,1281.7 587.94,1284.0 588.36,1286.1 588.23,1288.4 588.46,1290.6 588.21,1292.8 588.94,1295.0 588.38,1297.2 588.94,1299.4 588.62,1301.7 589.27,1303.8 588.65,1306.1 589.18,1308.3 588.79,1310.5 588.73,1312.7 589.27,1314.9 590.02,1317.1 589.56,1319.3 589.81,1321.5 589.20,1323.8 589.68,1326.0 589.66,1328.2 590.09,1330.4 589.65,1332.6 589.79,1334.8 590.24,1337.0 590.36,1339.2 591.03,1341.4 591.24,1343.6 591.11,1345.9 590.61,1348.1 590.97,1350.3 590.86,1352.7 591.25,1355.0 591.40,1357.3 592.68,1359.5 592.98,1361.8 593.01,1364.2 593.58,1366.5 593.21,1368.9 593.10,1371.3 593.89,1373.5 594.07,1376.0 595.57,1378.0 595.57,1380.5 596.18,1382.8 596.82,1385.1 597.61,1387.4 599.23,1389.1 600.93,1390.7 601.94,1393.0 603.81,1394.4 606.34,1395.1 608.92,1395.1 611.50,1395.0 612.87,1393.2 613.74,1390.9 615.49,1389.5 617.20,1387.1 619.29,1385.1 620.53,1386.9 621.50,1388.9 622.50,1390.8 623.19,1393.0 624.80,1394.6 626.52,1395.9 628.58,1396.8 630.09,1398.5 632.22,1397.8 633.61,1395.5 636.06,1395.4 637.70,1393.7 638.16,1391.5 638.60,1389.4 638.55,1387.1 639.39,1385.0 639.96,1382.9 639.56,1380.5 640.27,1378.4 640.88,1375.3 642.30,1372.6 642.41,1375.0 643.47,1377.1 644.08,1379.4 644.08,1381.8 644.51,1384.1 645.78,1386.3 646.68,1388.7 647.53,1391.2 648.23,1393.7 649.55,1391.7 651.73,1390.9 653.16,1389.1 654.86,1387.7 656.37,1386.0 656.85,1383.7 658.09,1381.7 659.00,1379.5 659.75,1377.3 659.41,1374.6 660.62,1372.6 661.55,1370.2 662.44,1367.9 663.98,1365.9 664.68,1368.0 665.15,1370.2 665.88,1372.3 666.83,1374.3 667.35,1376.5 668.20,1378.8 669.91,1380.3 670.56,1378.0 671.50,1375.9 671.37,1373.4 672.13,1371.1 672.48,1368.8 672.17,1366.5 672.85,1364.4 673.14,1362.2 672.82,1359.9 673.44,1357.8 673.03,1355.5 673.58,1353.3 673.91,1351.2 673.92,1348.9 673.71,1346.7 673.91,1344.5 674.29,1342.3 674.60,1340.1 674.93,1337.8 674.82,1335.4 674.70,1333.1 675.00,1330.7 675.12,1328.4 675.06,1326.0 675.74,1323.7 675.75,1321.4 675.73,1319.0 675.50,1316.7 676.71,1314.4 675.84,1312.0 676.07,1309.6 676.43,1307.3 676.81,1305.0 677.28,1302.5 677.59,1300.0 677.51,1297.5 677.00,1295.0 677.87,1292.5 677.61,1290.0 677.19,1287.7 677.41,1285.5 677.54,1283.3 678.20,1281.1 678.36,1278.9 678.53,1276.7 679.03,1274.5 678.93,1272.2 678.76,1270.0 679.10,1267.8 678.50,1265.5 679.42,1263.3 679.49,1261.1 679.44,1258.9 678.63,1256.7 679.42,1254.5 679.26,1252.2 679.29,1250.0 679.43,1247.7 679.21,1245.4 679.90,1243.2 680.04,1240.9 680.09,1238.7 679.64,1236.4 680.24,1234.1 679.58,1231.8 680.37,1229.6 679.71,1227.2 680.35,1225.0 679.83,1222.7 680.00,1220.4 680.70,1218.2 681.14,1215.9 680.60,1213.6 680.86,1211.4 680.85,1209.1 681.20,1206.8 681.41,1204.6 681.29,1202.3 680.97,1200.0 680.84,1197.8 680.59,1195.5 681.61,1193.3 680.95,1191.1 681.57,1188.9 681.75,1186.7 681.00,1184.4 681.09,1182.2 681.50,1180.0 681.49,1177.8 682.06,1175.6 682.15,1173.4 682.39,1171.1 681.63,1168.9 682.12,1166.7 682.49,1164.5 681.99,1162.2 682.21,1160.0 682.34,1157.8 681.95,1155.6 682.72,1153.3 682.26,1151.1 682.34,1148.9 682.57,1146.7 682.21,1144.4 682.81,1142.2 682.48,1140.0 682.55,1142.2 682.60,1144.4 682.27,1146.7 682.36,1148.9 682.33,1151.1 682.16,1153.3 682.25,1155.6 682.74,1157.8 682.65,1160.0 682.50,1162.3 682.25,1164.7 683.21,1167.0 682.52,1169.3 682.68,1171.7 682.84,1174.0 683.18,1176.3 683.00,1178.7 682.47,1181.0 682.32,1183.3 682.22,1185.7 682.50,1188.0 682.36,1190.3 682.44,1192.7 682.83,1195.0 683.63,1197.6 683.44,1200.4 684.07,1203.0 683.64,1205.3 683.78,1207.5 684.33,1209.8 683.84,1212.0 684.20,1214.3 684.15,1216.6 683.80,1218.8 683.87,1221.1 684.50,1223.3 683.91,1225.6 684.59,1227.9 684.41,1230.1 683.69,1232.4 683.59,1234.7 684.36,1236.9 683.76,1239.2 684.44,1241.4 684.07,1243.7 684.25,1246.0 684.56,1248.2 684.15,1250.5 684.01,1252.7 684.07,1255.0 683.95,1257.3 685.10,1259.3 685.17,1261.6 685.78,1263.7 685.49,1266.0 685.84,1268.4 685.78,1270.8 685.14,1273.2 685.01,1275.6 685.86,1278.0 685.56,1280.4 685.52,1282.8 685.57,1285.2 685.03,1287.6 685.58,1290.0 685.14,1292.4 686.29,1294.6 685.95,1297.0 685.90,1299.3 685.84,1301.7 686.07,1304.0 685.82,1306.4 686.75,1308.6 686.37,1311.0 686.54,1313.3 686.24,1315.6 687.13,1317.8 687.25,1320.1 686.86,1322.4 687.54,1324.6 687.19,1326.9 687.81,1329.2 687.86,1331.5 687.81,1333.8 687.42,1336.1 687.74,1338.3 687.87,1340.6 687.97,1342.9 688.37,1345.1 687.82,1347.5 688.50,1349.7 688.73,1352.0 689.04,1354.3 690.03,1356.5 690.16,1358.8 690.12,1361.2 690.04,1363.5 690.68,1365.8 691.77,1367.9 691.25,1370.4 691.95,1372.6 693.11,1374.8 693.54,1377.2 694.83,1379.3 695.82,1381.6 696.19,1384.1 698.43,1385.2 700.85,1385.5 703.13,1386.4 705.49,1387.0 708.85,1385.0 710.70,1383.3 712.21,1381.2 713.77,1383.4 715.49,1385.5 717.68,1385.4 719.87,1385.3 722.06,1385.5 724.25,1385.5 724.44,1383.2 724.94,1380.9 726.04,1378.9 725.99,1376.5 726.90,1374.4 727.33,1372.1 727.61,1369.8 729.48,1367.4 731.42,1365.0 733.45,1364.5 735.18,1363.1 737.17,1362.5 736.93,1360.2 738.23,1358.2 738.45,1356.0 738.77,1353.8 739.31,1351.7 739.05,1349.4 739.41,1347.2 739.82,1345.0 740.29,1342.7 740.93,1340.4 740.59,1338.0 741.48,1335.7 742.05,1333.4 741.86,1331.0 742.27,1328.8 742.69,1326.6 743.89,1324.8 743.87,1322.3 744.80,1319.9 744.67,1317.3 745.89,1315.0 745.27,1312.4 746.11,1310.0 746.71,1307.7 746.22,1305.4 747.03,1303.1 746.49,1300.7 746.37,1298.4 747.17,1296.1 746.88,1293.8 747.77,1291.5 747.78,1289.2 747.26,1286.9 747.68,1284.6 747.89,1282.3 748.29,1280.0 747.84,1277.6 748.34,1275.3 748.41,1273.0 748.48,1270.7 748.62,1268.4 748.64,1266.1 748.55,1263.9 748.55,1261.6 748.61,1259.3 749.37,1257.0 748.87,1254.7 748.44,1252.4 748.83,1250.1 749.32,1247.9 749.28,1245.6 748.63,1243.3 749.07,1241.0 749.17,1238.7 749.69,1236.4 749.07,1234.1 749.88,1231.9 749.81,1229.6 748.94,1227.3 749.56,1225.0 749.58,1222.6 749.64,1220.3 749.78,1217.9 750.10,1215.5 749.32,1213.1 750.07,1210.8 749.14,1208.4 750.12,1206.0 749.48,1203.6 749.23,1201.2 750.17,1198.9 749.82,1196.5 749.36,1198.8 749.81,1201.0 749.75,1203.3 750.28,1205.5 750.53,1207.8 750.13,1210.0 750.05,1212.3 750.76,1214.5 750.72,1216.8 750.92,1219.0 751.01,1221.3 750.40,1223.6 751.48,1225.8 751.55,1228.0 751.44,1230.3 750.82,1232.6 751.24,1234.8 751.23,1237.1 751.08,1239.3 751.23,1241.6 751.08,1243.8 751.50,1246.1 752.23,1248.3 752.21,1250.6 751.92,1252.8 752.34,1255.1 752.19,1257.3 752.30,1259.6 751.55,1261.9 751.64,1264.1 752.06,1266.3 752.42,1268.6 752.51,1270.8 752.48,1273.1 753.14,1275.3 752.86,1277.6 753.38,1279.8 753.09,1282.1 752.92,1284.4 753.56,1286.6 753.37,1288.9 753.40,1291.2 753.45,1293.4 754.18,1295.6 754.56,1297.9 753.96,1300.2 754.58,1302.4 755.00,1304.6 754.68,1306.9 754.64,1309.2 755.22,1311.4 754.79,1313.7 755.64,1315.9 755.90,1318.1 756.05,1320.4 756.13,1322.6 756.36,1324.9 755.68,1327.2 756.15,1329.4 756.96,1331.6 757.05,1333.9 757.08,1336.2 756.30,1338.5 757.16,1340.7 756.76,1343.0 757.57,1345.2 757.74,1347.4 757.52,1349.7 757.46,1352.1 758.89,1354.2 758.85,1356.6 759.26,1358.9 759.92,1361.1 759.88,1363.5 760.22,1365.8 761.37,1367.9 761.73,1370.3 761.95,1372.6 763.29,1374.7 764.62,1376.8 765.80,1379.0 767.26,1381.0 769.19,1382.7 771.54,1383.5 773.54,1385.1 775.21,1383.7 776.04,1381.5 776.92,1379.4 778.54,1378.0 779.91,1376.3 781.15,1374.5 781.15,1372.2 782.32,1370.2 782.36,1368.0 782.64,1365.8 782.74,1363.5 782.93,1361.3 783.72,1359.2 784.14,1357.0 785.22,1355.1 785.94,1353.0 786.61,1350.9 787.08,1348.7 788.13,1351.0 787.79,1353.7 788.40,1356.2 788.93,1358.7 789.65,1361.1 790.45,1363.3 790.92,1365.7 792.12,1367.8 793.66,1365.9 794.33,1363.6 795.24,1361.3 796.37,1359.2 796.62,1357.0 797.12,1354.8 797.17,1352.6 797.48,1350.4 797.14,1348.1 797.67,1346.0 797.45,1343.7 798.04,1341.5 797.58,1339.3 798.39,1337.1 798.81,1334.9 799.22,1332.8 798.94,1330.5 799.06,1328.2 799.65,1326.0 799.01,1323.7 798.93,1321.4 799.70,1319.2 799.60,1317.0 799.80,1314.7 800.18,1312.5 800.50,1310.2 800.77,1308.0 800.28,1305.7 800.72,1303.5 800.92,1301.2 801.12,1299.0 801.14,1296.7 801.15,1294.4 801.33,1292.2 801.76,1290.0 800.91,1287.7 801.88,1285.5 801.23,1283.2 801.32,1280.9 801.97,1278.7 801.78,1276.5 801.73,1274.2 801.49,1272.0 801.53,1269.7 801.86,1267.5 801.73,1265.2 802.50,1263.0 802.00,1260.7 802.28,1258.5 802.40,1256.2 802.57,1254.0 802.87,1251.8 803.06,1249.6 802.90,1247.4 802.48,1245.2 802.45,1242.9 803.01,1240.8 802.84,1238.5 803.32,1236.3 802.79,1234.1 803.40,1231.9 803.08,1229.7 803.05,1227.5 802.99,1225.3 803.73,1223.1 803.49,1220.9 803.60,1218.7 804.00,1216.5 803.12,1214.2 803.79,1212.0 803.60,1209.8 803.56,1207.6 804.30,1205.4 803.98,1203.2 804.38,1205.4 804.29,1207.6 804.36,1209.8 804.80,1212.0 804.70,1214.2 805.16,1216.4 804.68,1218.7 804.63,1220.9 804.30,1223.1 804.45,1225.3 805.28,1227.5 804.64,1229.7 805.74,1231.9 805.79,1234.1 805.45,1236.3 805.37,1238.6 805.57,1240.8 806.32,1242.9 805.99,1245.2 805.99,1247.4 806.22,1249.6 805.88,1251.8 806.28,1254.0 806.05,1256.3 806.87,1258.5 806.48,1260.7 806.26,1263.0 806.21,1265.2 806.41,1267.5 806.09,1269.7 806.42,1272.0 806.88,1274.2 806.41,1276.5 806.72,1278.7 806.79,1281.0 806.85,1283.2 806.72,1285.5 806.82,1287.7 807.16,1290.0 807.17,1292.2 807.24,1294.6 808.06,1296.9 808.10,1299.3 808.31,1301.7 809.15,1303.9 809.99,1306.2 809.52,1308.7 810.72,1310.9 810.80,1313.3 810.96,1310.9 811.27,1308.6 812.19,1306.4 812.67,1304.1 813.27,1301.8 814.01,1299.4 813.63,1296.8 814.23,1294.4 815.05,1292.0 814.56,1289.4 815.37,1287.0 815.84,1284.6 816.49,1286.8 816.01,1289.1 816.80,1291.3 817.23,1293.5 817.51,1295.7 817.64,1298.0 817.31,1300.3 818.23,1302.4 818.56,1304.6 818.58,1306.9 819.05,1309.1 818.76,1311.4 818.68,1313.7 818.84,1315.9 819.29,1318.1 819.71,1320.3 820.24,1322.5 819.64,1324.8 820.38,1326.9 820.21,1329.2 819.89,1331.5 820.94,1333.6 820.61,1335.9 821.09,1338.1 821.17,1340.3 821.50,1342.5 821.35,1344.8 821.77,1347.0 822.12,1349.4 823.06,1351.6 822.53,1354.2 823.57,1356.4 823.82,1358.8 824.05,1361.2 824.29,1363.6 824.78,1366.0 824.85,1368.6 825.96,1370.9 826.02,1373.5 826.11,1376.0 826.66,1378.5 826.99,1381.0" fill="none" stroke="#000" stroke-width="6.2" stroke-linejoin="round" stroke-linecap="butt"/></g>
<polygon points="722.0,620.0 723.2,615.8 726.8,611.6 729.6,620.0" fill="#000"/>
<polygon points="885.6,596.5 889.5,586.7 892.8,594.2 893.9,596.5" fill="#000"/>
<polygon points="916.9,541.0 919.0,536.0 920.9,528.8 923.4,541.0" fill="#000"/>
<polygon points="747.3,609.5 749.8,605.8 753.9,609.1" fill="#000"/>
<polygon points="569.8,619.0 571.6,613.5 574.4,608.6 577.2,618.5 577.5,619.0" fill="#000"/>
<polygon points="582.3,617.0 584.0,605.8 586.0,599.0 587.9,597.0 589.8,600.0 591.0,608.9 593.2,617.0" fill="#000"/>
<polygon points="597.0,613.0 598.7,605.8 600.6,590.3 604.1,584.4 608.0,598.0 610.2,613.0" fill="#000"/>
<polygon points="467.7,507.0 468.6,466.4 469.5,420.0 470.8,378.0 472.5,400.0 474.4,435.5 474.8,506.7 474.8,507.0" fill="#000"/>
<polygon points="500.5,500.0 501.1,481.9 502.7,435.5 504.2,425.8 505.5,435.0 506.0,451.0 506.9,480.0 508.0,500.0" fill="#000"/>
<polygon points="522.8,393.0 523.2,391.0 523.3,302.0 524.3,296.0 524.3,222.0 525.2,214.0 525.3,191.8 525.4,214.0 526.4,222.0 526.9,296.0 528.3,302.0 528.4,391.0 528.5,393.0" fill="#000"/>
<polygon points="657.8,567.0 659.1,543.8 662.3,522.5 665.6,543.8 666.8,567.0" fill="#000"/>
<polygon points="767.7,486.0 768.4,470.0 768.6,445.0 769.8,436.0 770.0,420.0 770.6,416.2 771.3,420.0 771.6,436.0 773.0,445.0 773.0,482.0 773.7,486.0" fill="#000"/>
<polygon points="844.4,508.0 844.9,499.6 846.4,466.4 847.9,452.7 850.5,483.0 851.1,508.0" fill="#000"/>
<polygon points="905.3,508.0 905.9,499.6 908.4,459.0 910.5,483.0 911.6,508.0" fill="#000"/>
<polygon points="722.6,1383.0 723.5,1378.4 725.8,1372.6 728.1,1383.0" fill="#000"/>
<polygon points="885.1,1362.0 885.6,1359.2 889.4,1348.7 892.3,1361.1 892.7,1362.0" fill="#000"/>
<polygon points="917.7,1307.0 919.0,1301.8 921.9,1284.6 924.7,1307.0" fill="#000"/>
<polygon points="745.3,1376.0 746.5,1372.6 750.3,1365.9 753.9,1376.0" fill="#000"/>
<polygon points="569.2,1386.0 571.6,1376.6 574.8,1366.0 577.5,1381.0 578.8,1386.0" fill="#000"/>
<polygon points="582.9,1383.0 584.5,1373.5 587.9,1355.0 591.0,1373.5 592.9,1383.0" fill="#000"/>
<polygon points="598.2,1376.0 598.7,1373.5 600.6,1350.3 604.1,1343.3 608.0,1358.0 610.1,1376.0" fill="#000"/>
<polygon points="467.2,1282.0 467.6,1272.9 468.5,1232.0 469.3,1200.0 469.5,1175.0 470.5,1165.0 470.6,1100.0 471.1,1061.5 472.2,1090.0 472.7,1120.0 472.9,1215.0 474.1,1228.0 474.3,1280.6 474.4,1282.0" fill="#000"/>
<polygon points="500.8,1273.0 501.1,1262.0 502.4,1235.0 502.6,1200.0 503.8,1190.0 504.3,1140.0 504.7,1180.0 505.7,1194.0 505.9,1238.0 506.8,1250.0 507.2,1262.0 508.0,1273.0" fill="#000"/>
<polygon points="522.9,1175.0 523.2,1173.0 523.3,941.0 525.3,931.0 525.5,845.0 525.8,832.2 526.1,845.0 526.3,931.0 528.3,941.0 528.4,1173.0 528.5,1175.0" fill="#000"/>
<polygon points="657.2,1340.0 658.4,1319.3 660.0,1288.4 662.3,1264.0 664.7,1288.4 666.2,1319.3 667.3,1340.0" fill="#000"/>
<polygon points="767.2,1262.0 767.6,1250.0 768.8,1225.0 769.5,1200.0 770.1,1180.0 770.9,1160.0 771.2,1140.0 771.4,1160.0 771.6,1195.0 773.0,1203.0 773.0,1255.0 774.0,1262.0" fill="#000"/>
<polygon points="845.3,1278.0 845.7,1273.0 847.0,1225.0 847.3,1196.5 848.9,1234.8 850.3,1273.1 850.7,1278.0" fill="#000"/>
<polygon points="906.0,1279.0 906.9,1254.0 908.5,1203.2 911.1,1254.0 911.8,1279.0" fill="#000"/>
<text class="s" font-size="38" fill="#000" transform="matrix(1.0168,0,0,1.0388,91.42,40.90)">A</text>
<text class="s" font-size="38" fill="#000" transform="matrix(1.0540,0,0,0.9800,97.54,711.38)">B</text>
<rect x="100.6" y="69.9" width="190.6" height="129.2" fill="none" stroke="#000" stroke-width="3.6"/>
<text class="s" font-size="32" fill="#3d40a6" transform="matrix(1.0600,0,0,1.0320,112.55,106.30)">1: ZnO</text>
<text class="s" font-size="32" fill="#000" transform="matrix(1.0780,0,0,1.0353,112.12,173.70)"><tspan font-size="32">2: Mg</tspan><tspan font-size="20.5" dy="3.09">3</tspan><tspan font-size="32" dy="-3.09">B</tspan><tspan font-size="20.5" dy="3.09">2</tspan><tspan font-size="32" dy="-3.09">O</tspan><tspan font-size="20.5" dy="3.09">6</tspan></text>
<rect x="101.8" y="743.4" width="190.6" height="129.2" fill="none" stroke="#000" stroke-width="3.6"/>
<text class="s" font-size="32" fill="#3d40a6" transform="matrix(1.0600,0,0,1.0320,113.75,779.80)">1: ZnO</text>
<text class="s" font-size="32" fill="#000" transform="matrix(1.0780,0,0,1.0353,113.32,847.20)"><tspan font-size="32">2: Mg</tspan><tspan font-size="20.5" dy="3.09">3</tspan><tspan font-size="32" dy="-3.09">B</tspan><tspan font-size="20.5" dy="3.09">2</tspan><tspan font-size="32" dy="-3.09">O</tspan><tspan font-size="20.5" dy="3.09">6</tspan></text>
<text class="s" font-size="27" fill="#000" transform="matrix(0,-1.1393,1.0694,0,350.95,608.72)">(020)</text>
<text class="s" font-size="27" fill="#000" transform="matrix(0,-1.1393,1.0694,0,405.95,593.72)">(101)</text>
<text class="s" font-size="27" fill="#3d40a6" transform="matrix(0,-1.1393,1.0694,0,475.25,330.32)">(100)</text>
<text class="s" font-size="27" fill="#3d40a6" transform="matrix(0,-1.1393,1.0694,0,506.95,371.12)">(002)</text>
<text class="s" font-size="27" fill="#000" transform="matrix(0,-1.1393,1.0694,0,498.35,226.32)">(121)</text>
<text class="s" font-size="27" fill="#3d40a6" transform="matrix(0,-1.1393,1.0694,0,533.85,153.12)">(101)</text>
<text class="s" font-size="27" fill="#000" transform="matrix(0,-1.1393,1.0694,0,561.45,552.82)">(201)</text>
<text class="s" font-size="27" fill="#000" transform="matrix(0,-1.1706,1.0694,0,574.95,479.96)">(211)</text>
<text class="s" font-size="27" fill="#000" transform="matrix(0,-1.1393,1.0694,0,595.15,546.52)">(131)</text>
<text class="s" font-size="27" fill="#000" transform="matrix(0,-1.1393,1.0694,0,616.25,470.02)">(040)</text>
<text class="s" font-size="27" fill="#3d40a6" transform="matrix(0,-1.1393,1.0694,0,671.95,481.52)">(102)</text>
<text class="s" font-size="27" fill="#000" transform="matrix(0,-1.1393,1.0694,0,706.35,585.92)">(141)</text>
<text class="s" font-size="27" fill="#000" transform="matrix(0,-1.1393,1.0694,0,729.05,517.82)">(202)</text>
<text class="s" font-size="27" fill="#000" transform="matrix(0,-1.1393,1.0694,0,751.75,449.02)">(132)</text>
<text class="s" font-size="27" fill="#3d40a6" transform="matrix(0,-1.1706,1.0694,0,780.55,373.26)">(110)</text>
<text class="s" font-size="27" fill="#3d40a6" transform="matrix(0,-1.1393,1.0694,0,854.55,408.52)">(103)</text>
<text class="s" font-size="27" fill="#3d40a6" transform="matrix(0,-1.1393,1.0694,0,892.35,533.52)">(200)</text>
<text class="s" font-size="27" fill="#3d40a6" transform="matrix(0,-1.1706,1.0694,0,913.95,418.86)">(112)</text>
<text class="s" font-size="27" fill="#3d40a6" transform="matrix(0,-1.1393,1.0694,0,928.65,338.42)">(201)</text>
<text class="s" font-size="27" fill="#000" transform="matrix(0,-1.1393,1.0694,0,350.65,1372.02)">(020)</text>
<text class="s" font-size="27" fill="#000" transform="matrix(0,-1.1393,1.0694,0,404.95,1360.92)">(101)</text>
<text class="s" font-size="27" fill="#000" transform="matrix(0,-1.1393,1.0694,0,485.65,945.52)">(121)</text>
<text class="s" font-size="27" fill="#3d40a6" transform="matrix(0,-1.1393,1.0694,0,474.05,1019.32)">(100)</text>
<text class="s" font-size="27" fill="#3d40a6" transform="matrix(0,-1.1393,1.0694,0,508.45,1093.92)">(002)</text>
<text class="s" font-size="27" fill="#3d40a6" transform="matrix(0,-1.1393,1.0694,0,534.85,791.62)">(101)</text>
<text class="s" font-size="27" fill="#000" transform="matrix(0,-1.1393,1.0694,0,561.45,1325.22)">(201)</text>
<text class="s" font-size="27" fill="#000" transform="matrix(0,-1.1706,1.0694,0,573.75,1227.26)">(211)</text>
<text class="s" font-size="27" fill="#000" transform="matrix(0,-1.1393,1.0694,0,591.45,1299.72)">(131)</text>
<text class="s" font-size="27" fill="#000" transform="matrix(0,-1.1393,1.0694,0,614.75,1228.82)">(040)</text>
<text class="s" font-size="27" fill="#3d40a6" transform="matrix(0,-1.1393,1.0694,0,668.05,1222.12)">(102)</text>
<text class="s" font-size="27" fill="#000" transform="matrix(0,-1.1393,1.0694,0,703.25,1343.82)">(141)</text>
<text class="s" font-size="27" fill="#000" transform="matrix(0,-1.1393,1.0694,0,726.35,1274.52)">(202)</text>
<text class="s" font-size="27" fill="#000" transform="matrix(0,-1.1393,1.0694,0,749.05,1197.92)">(132)</text>
<text class="s" font-size="27" fill="#3d40a6" transform="matrix(0,-1.1706,1.0694,0,780.55,1097.56)">(110)</text>
<text class="s" font-size="27" fill="#3d40a6" transform="matrix(0,-1.1393,1.0694,0,853.15,1152.92)">(103)</text>
<text class="s" font-size="27" fill="#3d40a6" transform="matrix(0,-1.1393,1.0694,0,889.45,1299.52)">(200)</text>
<text class="s" font-size="27" fill="#3d40a6" transform="matrix(0,-1.1706,1.0694,0,914.95,1156.96)">(112)</text>
<text class="s" font-size="27" fill="#3d40a6" transform="matrix(0,-1.1393,1.0694,0,932.95,1085.32)">(201)</text>
<text class="s" font-size="26" fill="#000" transform="matrix(1.2372,0,0,1.1130,335.16,635.30)">2</text>
<text class="s" font-size="26" fill="#000" transform="matrix(1.2372,0,0,1.1130,390.96,626.30)">2</text>
<text class="s" font-size="26" fill="#3d40a6" transform="matrix(1.1579,0,0,1.1095,463.14,364.70)">1</text>
<text class="s" font-size="26" fill="#3d40a6" transform="matrix(1.1579,0,0,1.1095,496.04,409.30)">1</text>
<text class="s" font-size="26" fill="#3d40a6" transform="matrix(1.1579,0,0,1.1095,517.94,181.30)">1</text>
<text class="s" font-size="26" fill="#000" transform="matrix(1.2372,0,0,1.1130,479.26,554.40)">2</text>
<text class="s" font-size="26" fill="#000" transform="matrix(1.2372,0,0,1.1130,547.46,610.50)">2</text>
<text class="s" font-size="26" fill="#000" transform="matrix(1.2372,0,0,1.1130,562.16,597.30)">2</text>
<text class="s" font-size="26" fill="#000" transform="matrix(1.2372,0,0,1.1130,578.76,582.00)">2</text>
<text class="s" font-size="26" fill="#000" transform="matrix(1.2372,0,0,1.1130,596.16,570.50)">2</text>
<text class="s" font-size="26" fill="#3d40a6" transform="matrix(1.1579,0,0,1.1095,654.74,511.60)">1</text>
<text class="s" font-size="26" fill="#000" transform="matrix(1.2372,0,0,1.1130,693.76,614.50)">2</text>
<text class="s" font-size="26" fill="#000" transform="matrix(1.2372,0,0,1.1130,717.16,602.00)">2</text>
<text class="s" font-size="26" fill="#000" transform="matrix(1.2372,0,0,1.1130,741.06,593.80)">2</text>
<text class="s" font-size="26" fill="#3d40a6" transform="matrix(1.1579,0,0,1.1095,763.44,402.40)">1</text>
<text class="s" font-size="26" fill="#3d40a6" transform="matrix(1.1579,0,0,1.1095,840.64,436.70)">1</text>
<text class="s" font-size="26" fill="#3d40a6" transform="matrix(1.1579,0,0,1.1095,879.94,577.20)">1</text>
<text class="s" font-size="26" fill="#3d40a6" transform="matrix(1.1579,0,0,1.1095,900.44,449.40)">1</text>
<text class="s" font-size="26" fill="#3d40a6" transform="matrix(1.1579,0,0,1.1095,913.74,519.00)">1</text>
<text class="s" font-size="26" fill="#000" transform="matrix(1.2372,0,0,1.1130,333.96,1401.40)">2</text>
<text class="s" font-size="26" fill="#000" transform="matrix(1.2372,0,0,1.1130,389.46,1388.80)">2</text>
<text class="s" font-size="26" fill="#3d40a6" transform="matrix(1.1579,0,0,1.1095,462.94,1051.40)">1</text>
<text class="s" font-size="26" fill="#3d40a6" transform="matrix(1.1579,0,0,1.1095,496.14,1125.40)">1</text>
<text class="s" font-size="26" fill="#3d40a6" transform="matrix(1.1579,0,0,1.1095,520.54,817.70)">1</text>
<text class="s" font-size="26" fill="#000" transform="matrix(1.2372,0,0,1.1130,481.76,1322.70)">2</text>
<text class="s" font-size="26" fill="#000" transform="matrix(1.2372,0,0,1.1130,549.06,1376.80)">2</text>
<text class="s" font-size="26" fill="#000" transform="matrix(1.2372,0,0,1.1130,563.96,1355.30)">2</text>
<text class="s" font-size="26" fill="#000" transform="matrix(1.2372,0,0,1.1130,578.36,1335.80)">2</text>
<text class="s" font-size="26" fill="#000" transform="matrix(1.2372,0,0,1.1130,596.56,1320.60)">2</text>
<text class="s" font-size="26" fill="#3d40a6" transform="matrix(1.1579,0,0,1.1095,655.04,1250.30)">1</text>
<text class="s" font-size="26" fill="#000" transform="matrix(1.2372,0,0,1.1130,689.76,1372.00)">2</text>
<text class="s" font-size="26" fill="#000" transform="matrix(1.2372,0,0,1.1130,717.06,1361.40)">2</text>
<text class="s" font-size="26" fill="#000" transform="matrix(1.2372,0,0,1.1130,740.86,1339.00)">2</text>
<text class="s" font-size="26" fill="#3d40a6" transform="matrix(1.1579,0,0,1.1095,763.44,1125.70)">1</text>
<text class="s" font-size="26" fill="#3d40a6" transform="matrix(1.1579,0,0,1.1095,838.74,1182.50)">1</text>
<text class="s" font-size="26" fill="#3d40a6" transform="matrix(1.1579,0,0,1.1095,880.04,1336.70)">1</text>
<text class="s" font-size="26" fill="#3d40a6" transform="matrix(1.1579,0,0,1.1095,901.44,1186.50)">1</text>
<text class="s" font-size="26" fill="#3d40a6" transform="matrix(1.1579,0,0,1.1095,916.14,1270.80)">1</text>
</svg>
</body></html>
